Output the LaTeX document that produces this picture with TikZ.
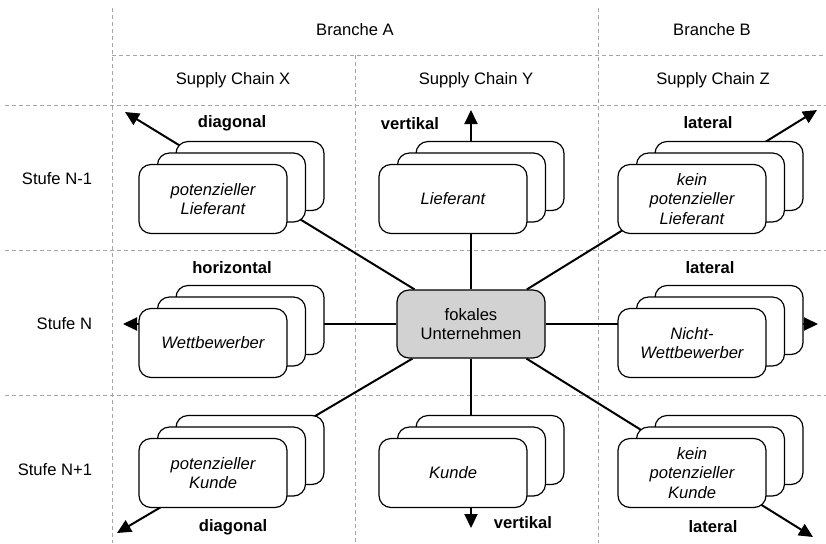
\documentclass[tikz,border=0pt]{standalone}
\usepackage{fontspec}
\setmainfont{Liberation Sans}
\usetikzlibrary{arrows.meta, backgrounds, shadows}

\begin{document}
\fontsize{8.3}{9.8}\selectfont
\begin{tikzpicture}[x=0.5pt, y=-0.5pt,
  gitter/.style={gray!70, line width=0.5pt, dash pattern=on 2pt off 1.5pt},
  karte/.style={draw, fill=white, line width=0.6pt, rounded corners=6pt, minimum width=74pt,
    minimum height=34.5pt, inner sep=1pt, align=center, font=\itshape,
    general shadow={shadow xshift=18.5pt, shadow yshift=11.5pt, draw, fill=white},
    general shadow={shadow xshift=9.25pt, shadow yshift=5.75pt, draw, fill=white}},
  fokus/.style={draw, fill=gray!35, line width=0.6pt, rounded corners=6pt, minimum width=74pt,
    minimum height=34pt, align=center},
  richtung/.style={font=\bfseries},
  pfeil/.style={line width=1pt, -{Triangle[length=7pt, width=6.5pt]}}]
\useasboundingbox (0,0) rectangle (826,543);
\node (brancheA) at (355,30) {Branche A};
\node (brancheB) at (712,30) {Branche B};
\node (scX) at (233,80) {Supply Chain X};
\node (scY) at (476,80) {Supply Chain Y};
\node (scZ) at (713,80) {Supply Chain Z};
\node[anchor=east] (stufeA) at (98,179) {Stufe N-1};
\node[anchor=east] (stufeB) at (98,324) {Stufe N};
\node[anchor=east] (stufeC) at (98,470) {Stufe N+1};

\node[fokus] (fokal) at (471,324) {fokales\\Unternehmen};
\node[karte] (potLief) at (213,199) {potenzieller\\Lieferant};
\node[karte] (lief) at (453,199) {Lieferant};
\node[karte] (keinLief) at (692,199) {kein\\potenzieller\\Lieferant};
\node[karte] (wettb) at (213,343) {Wettbewerber};
\node[karte] (nichtWettb) at (692,343) {Nicht-\\Wettbewerber};
\node[karte] (potKunde) at (213,473) {potenzieller\\Kunde};
\node[karte] (kunde) at (453,473) {Kunde};
\node[karte] (keinKunde) at (692,473) {kein\\potenzieller\\Kunde};

\node[richtung] (diagO) at (232,123) {diagonal};
\node[richtung] (vertO) at (410,124) {vertikal};
\node[richtung] (latO) at (708,123) {lateral};
\node[richtung] (horM) at (232,268) {horizontal};
\node[richtung] (latM) at (710,268) {lateral};
\node[richtung] (diagU) at (233,527) {diagonal};
\node[richtung] (vertU) at (523,523) {vertikal};
\node[richtung] (latU) at (713,527) {lateral};

\coordinate (nw) at (125,112);
\coordinate (n) at (471,110);
\coordinate (ne) at (817,110);
\coordinate (w) at (123,324);
\coordinate (e) at (818,324);
\coordinate (sw) at (117,533);
\coordinate (s) at (471,528);
\coordinate (se) at (813,537);

\begin{scope}[on background layer]
  \foreach \y in {105,250,395}
    \draw[gitter] (5,\y) -- (826,\y);
  \draw[gitter] (112,55) -- (826,55);
  \draw[gitter] (112,8) -- (112,543);
  \draw[gitter] (598,8) -- (598,543);
  \draw[gitter] (355,55) -- (355,543);
  \foreach \ziel in {nw,n,ne,w,e,sw,s,se}
    \draw[pfeil] (fokal) -- (\ziel);
\end{scope}
\end{tikzpicture}
\end{document}
